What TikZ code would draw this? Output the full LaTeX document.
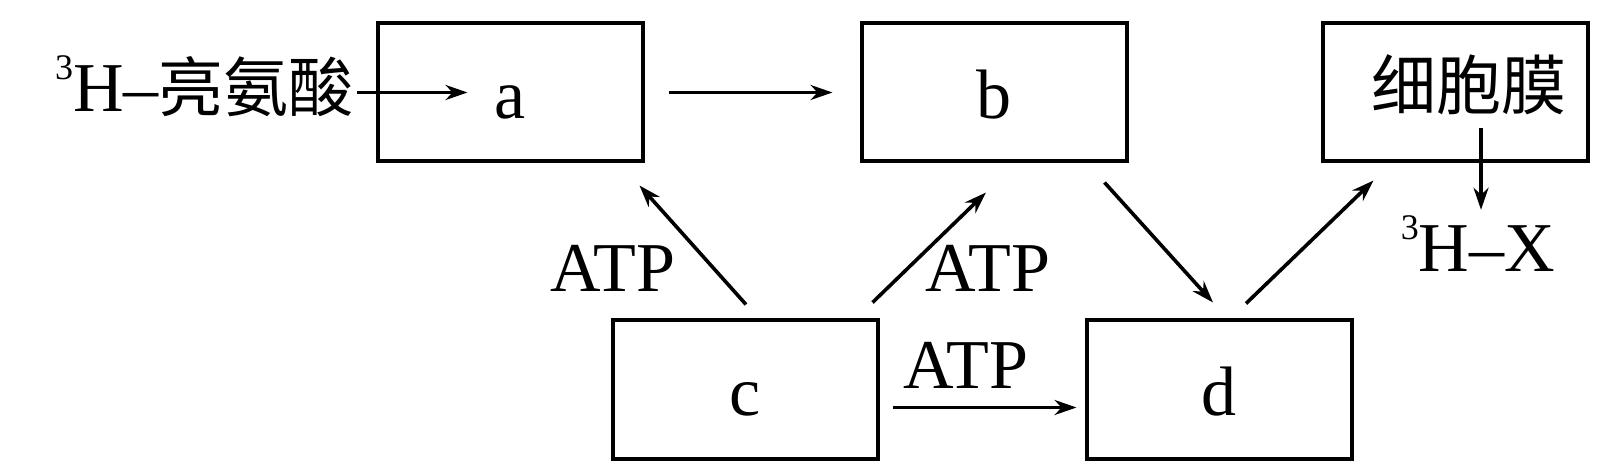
\documentclass[tikz,border=0pt]{standalone}
\usepackage{fontspec}
\setmainfont{Liberation Serif}
\newfontfamily\cjk{Noto Sans CJK SC}
\usetikzlibrary{positioning,arrows.meta}
\newcommand\isot{\raisebox{16pt}{\fontsize{18pt}{18pt}\selectfont 3}H\textendash}
\newcommand\cjktext[1]{{\cjk\fontsize{32.5pt}{40pt}\selectfont #1}}
\tikzset{box/.style={draw,line width=2pt,minimum width=132.5pt,minimum height=69pt,inner sep=0pt,text height=26pt,text depth=0pt,font=\fontsize{35pt}{40pt}\selectfont},lbl/.style={inner sep=0pt,font=\fontsize{35pt}{40pt}\selectfont},arr/.style={line width=1.8pt,-{Stealth[length=11pt,width=7.5pt]}}}
\begin{document}
\begin{tikzpicture}[x=0.5pt,y=-0.5pt]
\useasboundingbox (0,0) rectangle (1609,475);
\node[box] (a) at (510,92.5) {a};
\node[box,right=107.5pt of a] (b) {b};
\node[box,right=96pt of b,text height=17pt] (mem) {\hspace*{14pt}\cjktext{细胞膜}};
\node[box] (c) at (745,389.5) {c};
\node[box,right=102.5pt of c] (d) {d};
\node[lbl,anchor=base east] (leu) at (354,112) {\isot\cjktext{亮氨酸}};
\node[lbl,anchor=base] (hx) at (1478,272) {\isot X};
\foreach \x/\y/\n in {613/292/1,988/292/2,966/388/3}\node[lbl,anchor=base] (atp\n) at (\x,\y) {ATP};
\draw[arr,shorten <=1.5pt] (leu.east |- a.west)--([xshift=46pt]a.west);
\draw[arr,shorten <=12pt,shorten >=13.5pt] (a)--(b);
\draw[arr] ([shift={(0.5pt,7pt)}]c.north)--([shift={(-2.5pt,-11pt)}]a.south east);
\draw[arr] ([shift={(-3.5pt,8pt)}]c.north east)--([shift={(-4pt,-14.5pt)}]b.south);
\draw[arr] ([shift={(-12pt,-9.5pt)}]b.south east)--([shift={(-3pt,8pt)}]d.north);
\draw[arr] ([shift={(13.5pt,7.5pt)}]d.north)--([shift={(26.5pt,-8.5pt)}]mem.south west);
\draw[arr,shorten <=6.5pt,shorten >=4pt] ([yshift=-9pt]c.east)--([yshift=-9pt]d.west);
\draw[arr,shorten >=3pt] ([shift={(13pt,17.5pt)}]mem.south) coordinate (m0)--(m0 |- hx.north);
\end{tikzpicture}
\end{document}
